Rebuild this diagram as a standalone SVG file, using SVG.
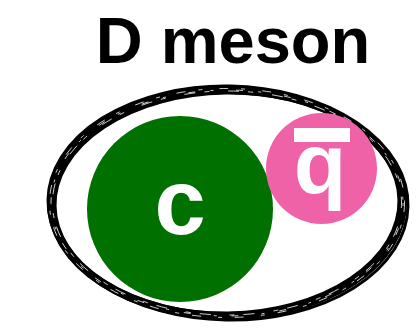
<svg xmlns="http://www.w3.org/2000/svg" width="416" height="330" viewBox="0 0 416 330">
  <style>
    .title { font-family: "Liberation Sans", Arial, sans-serif; font-weight: bold; font-size: 65px; fill: #000; }
    .lbl { font-family: "Liberation Sans", Arial, sans-serif; font-weight: bold; fill: #fff; }
    .ring { fill: none; stroke: #000; }
    .tex { fill: none; stroke: #fff; stroke-width: 0.8; }
  </style>
  <rect width="416" height="330" fill="#fff"/>
  <text class="title" x="233" y="63" text-anchor="middle">D meson</text>
  <g id="d-meson-boundary">
    <ellipse class="ring" cx="227" cy="203" rx="176" ry="113" stroke-width="8"/>
    <ellipse class="ring" cx="227" cy="203" rx="172" ry="110" stroke-width="3" transform="rotate(-1 227 203)"/>
    <ellipse class="ring" cx="228" cy="203" rx="180" ry="117" stroke-width="3" transform="rotate(1 227 203)"/>
    <ellipse class="tex" cx="227" cy="203" rx="177.5" ry="114.5" stroke-dasharray="9 13 4 17"/>
    <ellipse class="tex" cx="227" cy="203" rx="174.5" ry="112" stroke-dasharray="5 19 11 9"/>
    <ellipse class="tex" cx="227" cy="203" rx="176" ry="113" stroke-dasharray="3 23 7 15"/>
  </g>
  <g id="charm-quark">
    <circle cx="180" cy="209" r="93" fill="#007000"/>
    <text class="lbl" x="180" y="234" font-size="92" text-anchor="middle">c</text>
  </g>
  <g id="anti-quark">
    <circle cx="321.5" cy="168.5" r="55.5" fill="#f062a8"/>
    <rect x="294" y="128" width="56" height="14" fill="#fff"/>
    <text class="lbl" x="320" y="193" font-size="86" text-anchor="middle">q</text>
  </g>
</svg>
